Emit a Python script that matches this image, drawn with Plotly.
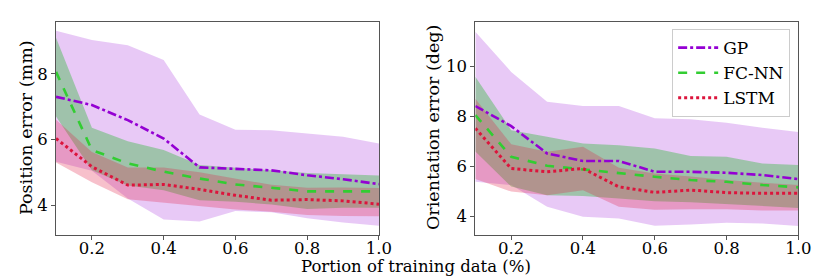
import plotly.graph_objects as go

x = [0.1, 0.2, 0.3, 0.4, 0.5, 0.6, 0.7, 0.8, 0.9, 1.0]

# Position error (mm)
gp_pos_mean = [7.30, 7.05, 6.59, 6.03, 5.15, 5.10, 5.06, 4.91, 4.79, 4.64]
gp_pos_upper = [9.31, 9.03, 8.87, 8.42, 6.76, 6.30, 6.28, 6.18, 6.08, 5.88]
gp_pos_lower = [5.32, 5.05, 4.20, 3.56, 3.50, 3.82, 3.78, 3.60, 3.47, 3.37]
fc_pos_mean = [8.06, 5.68, 5.27, 5.02, 4.81, 4.63, 4.53, 4.42, 4.42, 4.42]
fc_pos_upper = [9.10, 6.36, 5.95, 5.68, 5.22, 5.15, 5.06, 4.98, 4.93, 4.90]
fc_pos_lower = [6.70, 5.06, 4.60, 4.45, 4.15, 4.10, 4.02, 3.88, 3.92, 3.92]
lstm_pos_mean = [6.03, 5.17, 4.61, 4.63, 4.48, 4.30, 4.15, 4.17, 4.13, 4.03]
lstm_pos_upper = [6.60, 5.62, 5.15, 5.15, 5.00, 4.80, 4.62, 4.53, 4.54, 4.52]
lstm_pos_lower = [5.30, 4.70, 4.18, 4.08, 3.97, 3.87, 3.80, 3.70, 3.67, 3.66]

# Orientation error (deg)
gp_ori_mean = [8.41, 7.61, 6.52, 6.22, 6.22, 5.79, 5.79, 5.75, 5.66, 5.50]
gp_ori_upper = [11.37, 9.77, 8.58, 8.41, 8.41, 7.92, 7.88, 7.74, 7.54, 7.38]
gp_ori_lower = [5.39, 5.26, 4.40, 4.00, 3.93, 3.64, 3.69, 3.76, 3.73, 3.63]
fc_ori_mean = [8.05, 6.39, 6.03, 5.88, 5.75, 5.59, 5.46, 5.39, 5.26, 5.17]
fc_ori_upper = [9.58, 7.45, 7.19, 6.92, 6.85, 6.72, 6.42, 6.39, 6.12, 6.06]
fc_ori_lower = [6.60, 5.20, 4.85, 4.82, 4.72, 4.62, 4.58, 4.50, 4.40, 4.35]
lstm_ori_mean = [7.52, 5.92, 5.79, 5.92, 5.19, 4.97, 5.06, 4.96, 4.93, 4.93]
lstm_ori_upper = [8.70, 6.89, 6.59, 6.79, 5.95, 5.72, 5.60, 5.46, 5.35, 5.26]
lstm_ori_lower = [5.50, 5.00, 4.85, 5.05, 4.40, 4.28, 4.30, 4.30, 4.25, 4.25]

names = ["GP", "FC-NN", "LSTM"]
line_colors = ["#9400D3", "#32CD32", "#DC143C"]
fill_colors = ["rgba(148,0,211,0.21)", "rgba(50,185,60,0.40)", "rgba(225,30,70,0.28)"]
dashes = ["dashdot", "dash", "dot"]
widths = [2.6, 2.6, 3.0]

panels = [
    ("x", "y", [(gp_pos_mean, gp_pos_upper, gp_pos_lower),
                (fc_pos_mean, fc_pos_upper, fc_pos_lower),
                (lstm_pos_mean, lstm_pos_upper, lstm_pos_lower)], False),
    ("x2", "y2", [(gp_ori_mean, gp_ori_upper, gp_ori_lower),
                  (fc_ori_mean, fc_ori_upper, fc_ori_lower),
                  (lstm_ori_mean, lstm_ori_upper, lstm_ori_lower)], True),
]

fig = go.Figure()
for xa, ya, series, show in panels:
    for i, (m, u, l) in enumerate(series):
        fig.add_trace(go.Scatter(x=x, y=u, xaxis=xa, yaxis=ya, mode="lines",
                                 line=dict(width=0), showlegend=False, hoverinfo="skip"))
        fig.add_trace(go.Scatter(x=x, y=l, xaxis=xa, yaxis=ya, mode="lines",
                                 line=dict(width=0), fill="tonexty",
                                 fillcolor=fill_colors[i], showlegend=False, hoverinfo="skip"))
    for i, (m, u, l) in enumerate(series):
        fig.add_trace(go.Scatter(x=x, y=m, xaxis=xa, yaxis=ya, mode="lines", name=names[i],
                                 line=dict(color=line_colors[i], dash=dashes[i], width=widths[i]),
                                 showlegend=show))

font_family = "DejaVu Serif"
axis_common = dict(showline=True, mirror=True, linecolor="#555555", linewidth=1,
                   ticks="outside", ticklen=4, tickcolor="#555555", showgrid=False,
                   zeroline=False, tickfont=dict(family=font_family, size=16.5, color="black"),
                   automargin=False)

fig.update_layout(
    width=830, height=277,
    margin=dict(l=0, r=0, t=0, b=0),
    paper_bgcolor="white", plot_bgcolor="white",
    xaxis=dict(domain=[0.0675, 0.4566], range=[0.1, 1.0], tickvals=[0.2, 0.4, 0.6, 0.8, 1.0],
               ticktext=["0.2", "0.4", "0.6", "0.8", "1.0"], anchor="y", ticklabelstandoff=-6,
               **axis_common),
    yaxis=dict(domain=[0.1516, 0.9206], range=[3.09, 9.58], tickvals=[4, 6, 8], anchor="x",
               **axis_common),
    xaxis2=dict(domain=[0.5727, 0.9618], range=[0.1, 1.0], tickvals=[0.2, 0.4, 0.6, 0.8, 1.0],
                ticktext=["0.2", "0.4", "0.6", "0.8", "1.0"], anchor="y2", ticklabelstandoff=-6,
                **axis_common),
    yaxis2=dict(domain=[0.1516, 0.9206], range=[3.27, 11.76], tickvals=[4, 6, 8, 10], anchor="x2",
                **axis_common),
    legend=dict(x=0.952, y=0.895, xanchor="right", yanchor="top", traceorder="normal",
                bgcolor="rgba(255,255,255,0.85)", bordercolor="#cccccc", borderwidth=1,
                font=dict(family=font_family, size=17, color="black"),
                tracegroupgap=0, itemwidth=40),
    annotations=[
        dict(text="Position error (mm)", x=26, y=128, xref="paper", yref="paper",
             textangle=-90, showarrow=False, font=dict(family=font_family, size=17.5, color="black")),
        dict(text="Orientation error (deg)", x=433, y=128, xref="paper", yref="paper",
             textangle=-90, showarrow=False, font=dict(family=font_family, size=17.5, color="black")),
        dict(text="Portion of training data (%)", x=416, y=277, xref="paper", yref="paper",
             showarrow=False, borderpad=0, font=dict(family=font_family, size=16.5, color="black")),
    ],
)

W, H = 830, 277
for i, a in enumerate(fig.layout.annotations):
    a.x = a.x / W
    a.y = 1 - a.y / H
    a.xanchor = "center"
    a.yanchor = "bottom" if i == 2 else "middle"

fig.write_html("out.html", config={"displayModeBar": False},
               post_script="document.body.style.margin='0';document.body.style.overflow='hidden';")
